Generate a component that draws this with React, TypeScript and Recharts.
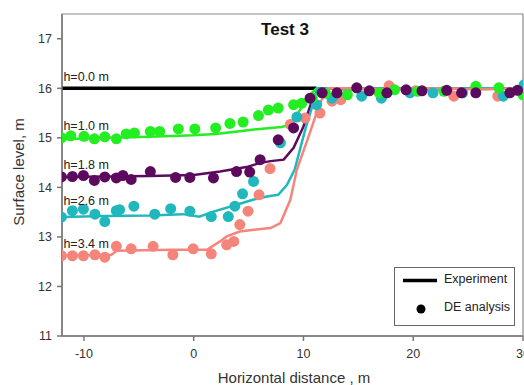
import { ComposedChart, Line, Scatter, XAxis, YAxis, ReferenceArea, Legend } from 'recharts'

const FONT = 'Arial, "Liberation Sans", sans-serif'

const GREEN = '#22ee22'
const PURPLE = '#5c0a5e'
const CYAN = '#20b8bc'
const PINK = '#f5857b'

// experiment profiles (lines)
const expBlackX = [-12, 11.2]
const expBlackY = [16, 16]

const expGreenX = [-12, -8, -4, 0, 2, 4, 6, 8, 8.6, 9.5, 10.5, 11.2, 14, 18, 22, 26, 30]
const expGreenY = [14.97, 15.0, 15.02, 15.05, 15.08, 15.13, 15.18, 15.22, 15.25, 15.5, 15.85, 16.0, 16.0, 15.98, 16.0, 15.98, 16.0]

const expPurpleX = [-12, -8, -4, 0, 2.4, 4.8, 6, 7, 8.2, 9.1, 10, 10.8, 11.4, 14, 18, 22, 26, 30]
const expPurpleY = [14.21, 14.22, 14.23, 14.25, 14.32, 14.41, 14.49, 14.53, 14.56, 14.8, 15.23, 15.77, 16.0, 15.98, 16.0, 15.98, 16.0, 16.0]

const expCyanX = [-12, -8, -4, -1, 0.5, 1.8, 3.6, 5.4, 6.8, 7.7, 8.5, 9.2, 10.2, 11.3, 14, 18, 22, 26, 30]
const expCyanY = [13.4, 13.42, 13.43, 13.46, 13.41, 13.51, 13.63, 13.75, 13.82, 13.85, 14.05, 14.36, 15.2, 16.0, 15.98, 16.0, 15.98, 16.0, 16.0]

const expPinkX = [-12, -7.5, -7, -2, 1.2, 2.4, 3, 4.2, 5.7, 7, 7.9, 8.8, 9.4, 10.5, 11.5, 12.2, 14, 18, 22, 26, 30]
const expPinkY = [12.62, 12.64, 12.72, 12.74, 12.74, 12.91, 13.01, 13.11, 13.15, 13.18, 13.28, 13.75, 14.36, 15.05, 15.7, 16.0, 16.0, 15.98, 16.0, 15.98, 16.0]

// DE analysis (circles)
const deGreenX = [-12.05, -11.2, -10.0, -9.05, -8.1, -7.05, -6.15, -5.4, -3.95, -3.1, -1.4, 0.1, 2.0, 3.3, 4.5, 5.9, 6.8, 7.7, 9.1, 9.85, 10.8, 12.0, 14.0, 16.9, 18.3, 20.4, 22.8, 25.7, 27.8, 30.0]
const deGreenY = [15.0, 15.04, 15.03, 14.98, 15.02, 14.98, 15.08, 15.1, 15.13, 15.13, 15.18, 15.18, 15.2, 15.29, 15.32, 15.45, 15.56, 15.6, 15.67, 15.7, 15.81, 15.9, 15.87, 15.91, 15.97, 15.94, 15.94, 16.04, 16.01, 15.87]

const dePurpleX = [-12.05, -11.05, -10.05, -9.05, -8.1, -7.05, -6.45, -5.7, -3.95, -1.65, -0.35, 1.8, 3.9, 5.1, 6.05, 7.7, 9.1, 10.6, 11.7, 13.05, 14.85, 16.0, 17.6, 19.35, 20.8, 23.05, 24.4, 25.7, 28.8, 29.5]
const dePurpleY = [14.21, 14.22, 14.24, 14.14, 14.21, 14.19, 14.24, 14.16, 14.32, 14.2, 14.2, 14.19, 14.32, 14.31, 14.56, 14.96, 15.2, 15.8, 15.91, 15.91, 16.01, 15.95, 15.91, 15.97, 15.95, 15.96, 15.91, 15.91, 15.91, 15.96]

const deCyanX = [-12.05, -11.05, -10.05, -9.0, -8.1, -7.05, -6.75, -5.45, -3.55, -2.1, -0.35, 1.6, 3.15, 3.75, 4.45, 5.45, 7.9, 9.4, 11.2, 12.6, 15.3, 17.1, 19.7, 21.8, 24.5, 28.2, 30.1]
const deCyanY = [13.4, 13.53, 13.56, 13.46, 13.31, 13.53, 13.55, 13.62, 13.46, 13.57, 13.52, 13.41, 13.41, 13.62, 13.87, 14.12, 14.9, 15.42, 15.67, 15.8, 15.84, 15.8, 15.91, 15.91, 15.91, 15.84, 16.07]

const dePinkX = [-12.05, -11.05, -10.05, -9.0, -8.1, -7.05, -5.7, -3.7, -1.9, -0.05, 1.6, 3.0, 3.65, 4.2, 4.95, 5.95, 6.95, 8.8, 10.15, 11.5, 12.6, 13.4, 17.8, 20.2, 23.7, 27.7]
const dePinkY = [12.62, 12.62, 12.62, 12.64, 12.59, 12.81, 12.76, 12.81, 12.64, 12.76, 12.66, 12.84, 12.91, 13.25, 13.52, 13.85, 14.38, 15.27, 15.4, 15.5, 15.74, 15.77, 16.05, 15.95, 15.84, 15.84]

const profileLabels = ['h=0.0 m', 'h=1.0 m', 'h=1.8 m', 'h=2.6 m', 'h=3.4 m']
const labelY = [16.14, 15.16, 14.37, 13.64, 12.77]
const labelX = -11.87

const xTicks = [-10, 0, 10, 20, 30]
const yTicks = [11, 12, 13, 14, 15, 16, 17]

const toPts = (xs: number[], ys: number[]) => xs.map((x, i) => ({ x, y: ys[i] }))
const labelPts = profileLabels.map((text, i) => ({ x: labelX, y: labelY[i], text }))

const dot = (color: string) => (p: any) => <circle cx={p.cx} cy={p.cy} r={5.5} fill={color} />

const LegendBox = () => (
  <div
    style={{
      position: 'relative',
      width: 119,
      height: 57,
      border: '1px solid #666',
      background: '#fff',
      fontFamily: FONT,
      fontSize: 12.5,
      color: '#222',
    }}
  >
    <svg width={119} height={57} style={{ position: 'absolute', left: 0, top: 0 }}>
      <line x1={8} x2={42} y1={12.5} y2={12.5} stroke="#000" strokeWidth={3.5} />
      <circle cx={26} cy={41} r={4.5} fill="#000" />
    </svg>
    <span style={{ position: 'absolute', left: 49, top: 4 }}>Experiment</span>
    <span style={{ position: 'absolute', left: 49, top: 32 }}>DE analysis</span>
  </div>
)

export default function App() {
  const tick = { fontSize: 12.5, fill: '#333', fontFamily: FONT }
  return (
    <div style={{ position: 'absolute', left: 0, top: 0, width: 524, height: 385, background: '#fff' }}>
      <ComposedChart width={524} height={385} margin={{ top: 14, right: 1, bottom: 19, left: 0 }}>
        <XAxis
          type="number"
          dataKey="x"
          domain={[-12, 30]}
          ticks={xTicks}
          interval={0}
          allowDataOverflow
          height={30}
          tick={tick}
          tickSize={5}
          tickMargin={8}
          stroke="#777"
          strokeWidth={1.5}
        />
        <YAxis
          type="number"
          dataKey="y"
          domain={[11, 17.5]}
          ticks={yTicks}
          allowDataOverflow
          width={62}
          tick={tick}
          tickSize={5}
          tickMargin={5}
          stroke="#777"
          strokeWidth={1.5}
        />
        <ReferenceArea x1={-12} x2={30} y1={11} y2={17.5} fill="none" stroke="#888" strokeWidth={1.2} />

        <Line data={toPts(expBlackX, expBlackY)} dataKey="y" type="linear" stroke="#000" strokeWidth={3.5} dot={false} isAnimationActive={false} />
        <Line data={toPts(expGreenX, expGreenY)} dataKey="y" type="linear" stroke={GREEN} strokeWidth={2.5} dot={false} isAnimationActive={false} />
        <Line data={toPts(expPurpleX, expPurpleY)} dataKey="y" type="linear" stroke={PURPLE} strokeWidth={2.5} dot={false} isAnimationActive={false} />
        <Line data={toPts(expCyanX, expCyanY)} dataKey="y" type="linear" stroke={CYAN} strokeWidth={2.5} dot={false} isAnimationActive={false} />
        <Line data={toPts(expPinkX, expPinkY)} dataKey="y" type="linear" stroke={PINK} strokeWidth={2.5} dot={false} isAnimationActive={false} />

        <Scatter data={toPts(dePinkX, dePinkY)} dataKey="y" shape={dot(PINK)} isAnimationActive={false} />
        <Scatter data={toPts(deCyanX, deCyanY)} dataKey="y" shape={dot(CYAN)} isAnimationActive={false} />
        <Scatter data={toPts(deGreenX, deGreenY)} dataKey="y" shape={dot(GREEN)} isAnimationActive={false} />
        <Scatter data={toPts(dePurpleX, dePurpleY)} dataKey="y" shape={dot(PURPLE)} isAnimationActive={false} />

        <Scatter
          data={labelPts}
          dataKey="y"
          isAnimationActive={false}
          shape={(p: any) => (
            <text x={p.cx} y={p.cy} fontSize={12.5} fontFamily={FONT} fill="#222">
              {p.payload.text}
            </text>
          )}
        />

        <Legend
          content={() => <LegendBox />}
          layout="horizontal"
          verticalAlign="middle"
          wrapperStyle={{ position: 'absolute', left: 394, top: 267, width: 121, height: 59 }}
        />

        <text x={285} y={35} textAnchor="middle" fontSize={17} fontWeight="bold" fontFamily={FONT} fill="#111">
          Test 3
        </text>
        <text
          x={18}
          y={172}
          textAnchor="middle"
          dominantBaseline="central"
          fontSize={15}
          fontFamily={FONT}
          fill="#333"
          transform="rotate(-90 18 172)"
        >
          Surface level, m
        </text>
        <text x={294} y={383} textAnchor="middle" fontSize={15} fontFamily={FONT} fill="#333">
          Horizontal distance , m
        </text>
      </ComposedChart>
    </div>
  )
}
